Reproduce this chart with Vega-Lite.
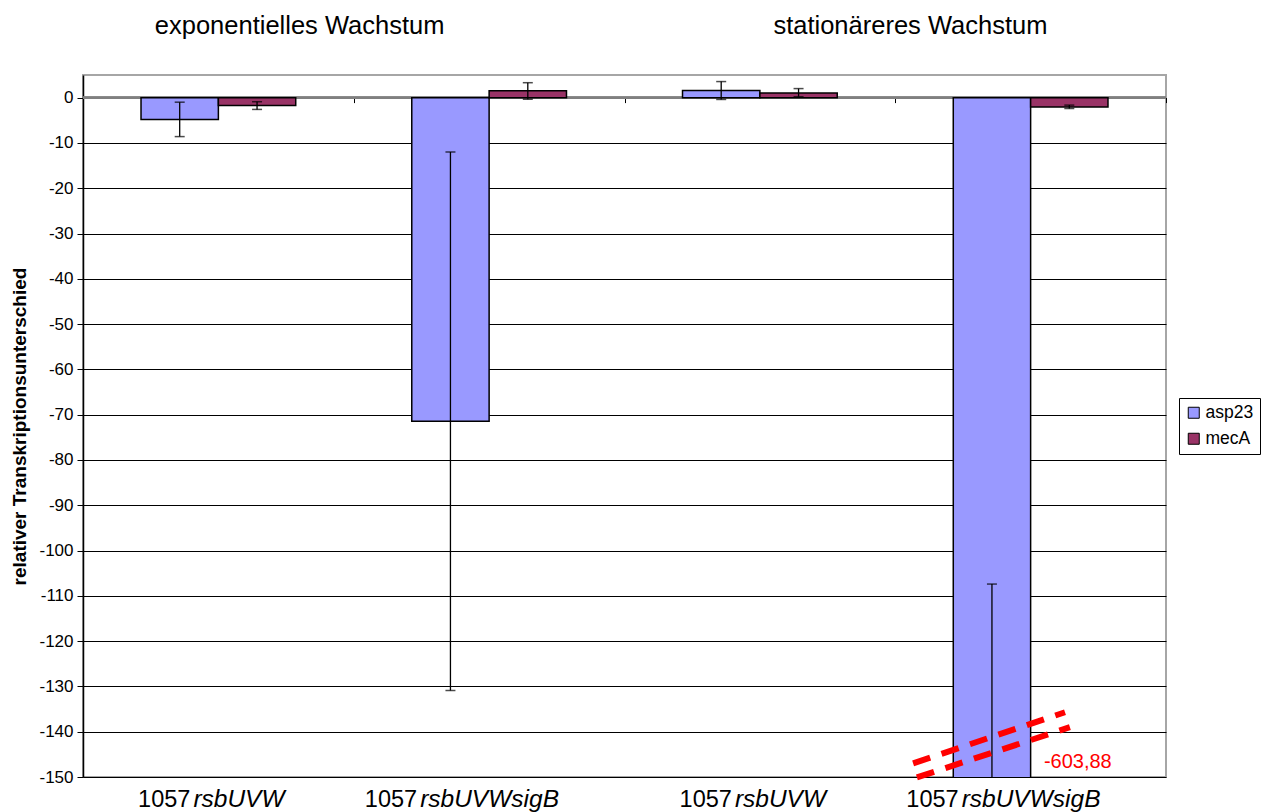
{
  "$schema": "https://vega.github.io/schema/vega-lite/v6.json",
  "width": 1083,
  "height": 702,
  "autosize": {"type": "none"},
  "padding": {"left": 83, "top": 75, "right": 100, "bottom": 35},
  "background": "white",
  "config": {
    "view": {"stroke": "#a6a6a6", "strokeWidth": 2},
    "font": "Liberation Sans"
  },
  "datasets": {
    "bars": [
      {"cat": "exp_rsbUVW", "gene": "asp23", "value": -4.8, "lo": -8.6, "hi": -1.0},
      {"cat": "exp_rsbUVW", "gene": "mecA", "value": -1.75, "lo": -2.6, "hi": -0.9},
      {"cat": "exp_sigB", "gene": "asp23", "value": -71.45, "lo": -130.9, "hi": -12.0},
      {"cat": "exp_sigB", "gene": "mecA", "value": 1.5, "lo": -0.35, "hi": 3.3},
      {"cat": "stat_rsbUVW", "gene": "asp23", "value": 1.6, "lo": -0.4, "hi": 3.55},
      {"cat": "stat_rsbUVW", "gene": "mecA", "value": 1.05, "lo": 0.2, "hi": 2.0},
      {"cat": "stat_sigB", "gene": "asp23", "value": -603.88, "lo": -1100.4, "hi": -107.4},
      {"cat": "stat_sigB", "gene": "mecA", "value": -2.05, "lo": -2.4, "hi": -1.65}
    ],
    "labels": [
      {"cat": "exp_rsbUVW", "strain": "1057", "mutant": "rsbUVW", "kind": "short"},
      {"cat": "exp_sigB", "strain": "1057", "mutant": "rsbUVWsigB", "kind": "long"},
      {"cat": "stat_rsbUVW", "strain": "1057", "mutant": "rsbUVW", "kind": "short"},
      {"cat": "stat_sigB", "strain": "1057", "mutant": "rsbUVWsigB", "kind": "long"}
    ],
    "titles": [
      {"pos": 0.80, "level": 14.0, "title": "exponentielles Wachstum"},
      {"pos": 3.056, "level": 14.0, "title": "stationäreres Wachstum"}
    ],
    "breaks": [
      {"x1": 3.066, "y1": -147.0, "x2": 3.627, "y2": -135.7},
      {"x1": 3.080, "y1": -150.1, "x2": 3.645, "y2": -139.0}
    ],
    "notes": [
      {"pos": 3.549, "level": -148.1, "text": "-603,88"}
    ],
    "catticks": [
      {"pos": 1}, {"pos": 2}, {"pos": 3}
    ]
  },
  "resolve": {"scale": {"x": "independent"}, "axis": {"x": "independent"}},
  "layer": [
    {
      "data": {"name": "bars"},
      "layer": [
        {
          "mark": {"type": "rule", "color": "#808080", "strokeWidth": 2},
          "encoding": {
            "y": {"datum": 0, "type": "quantitative", "scale": {"domain": [-150, 5], "nice": false, "zero": false},
              "axis": {
                "values": [0, -10, -20, -30, -40, -50, -60, -70, -80, -90, -100, -110, -120, -130, -140, -150],
                "labelExpr": "'' + datum.value",
                "title": "relativer Transkriptionsunterschied",
                "titleFontSize": 19, "titleFontWeight": "bold", "titleColor": "black", "titlePadding": 9,
                "labelFontSize": 17, "labelColor": "black", "labelPadding": 4,
                "tickColor": "black", "tickSize": 6, "tickWidth": 1,
                "domainColor": "black", "domainWidth": 1.5,
                "grid": true, "gridColor": "black", "gridWidth": 1
              }
            }
          }
        },
        {
          "mark": {"type": "bar", "stroke": "black", "strokeWidth": 1.5, "clip": true},
          "encoding": {
            "x": {"field": "cat", "type": "nominal", "scale": {"domain": ["exp_rsbUVW", "exp_sigB", "stat_rsbUVW", "stat_sigB"], "paddingInner": 0, "paddingOuter": 0}, "axis": null},
            "xOffset": {"field": "gene", "type": "nominal", "scale": {"domain": ["asp23", "mecA"], "paddingInner": 0, "paddingOuter": 0.75}},
            "y": {"field": "value", "type": "quantitative", "scale": {"domain": [-150, 5], "nice": false, "zero": false}},
            "color": {"field": "gene", "type": "nominal",
              "scale": {"domain": ["asp23", "mecA"], "range": ["#9999FF", "#993366"]},
              "legend": {
                "title": null, "orient": "none", "legendX": 1096, "legendY": 323,
                "strokeColor": "black", "padding": 6, "fillColor": "white",
                "labelFontSize": 17.5, "labelColor": "black", "labelOffset": 3,
                "symbolType": "square", "symbolSize": 121, "symbolStrokeColor": "black", "symbolStrokeWidth": 1,
                "rowPadding": 7
              }
            }
          }
        },
        {
          "mark": {"type": "rule", "color": "black", "strokeWidth": 1.3, "clip": true},
          "encoding": {
            "x": {"field": "cat", "type": "nominal", "scale": {"domain": ["exp_rsbUVW", "exp_sigB", "stat_rsbUVW", "stat_sigB"], "paddingInner": 0, "paddingOuter": 0}, "axis": null},
            "xOffset": {"field": "gene", "type": "nominal", "scale": {"domain": ["asp23", "mecA"], "paddingInner": 0, "paddingOuter": 0.75}},
            "y": {"field": "lo", "type": "quantitative"},
            "y2": {"field": "hi"}
          }
        },
        {
          "mark": {"type": "tick", "color": "black", "size": 10, "thickness": 1.5, "clip": true},
          "encoding": {
            "x": {"field": "cat", "type": "nominal", "scale": {"domain": ["exp_rsbUVW", "exp_sigB", "stat_rsbUVW", "stat_sigB"], "paddingInner": 0, "paddingOuter": 0}, "axis": null},
            "xOffset": {"field": "gene", "type": "nominal", "scale": {"domain": ["asp23", "mecA"], "paddingInner": 0, "paddingOuter": 0.75}},
            "y": {"field": "lo", "type": "quantitative"}
          }
        },
        {
          "mark": {"type": "tick", "color": "black", "size": 10, "thickness": 1.5, "clip": true},
          "encoding": {
            "x": {"field": "cat", "type": "nominal", "scale": {"domain": ["exp_rsbUVW", "exp_sigB", "stat_rsbUVW", "stat_sigB"], "paddingInner": 0, "paddingOuter": 0}, "axis": null},
            "xOffset": {"field": "gene", "type": "nominal", "scale": {"domain": ["asp23", "mecA"], "paddingInner": 0, "paddingOuter": 0.75}},
            "y": {"field": "hi", "type": "quantitative"}
          }
        }
      ]
    },
    {
      "data": {"name": "labels"},
      "encoding": {
        "x": {"field": "cat", "type": "nominal", "scale": {"domain": ["exp_rsbUVW", "exp_sigB", "stat_rsbUVW", "stat_sigB"], "paddingInner": 0, "paddingOuter": 0}, "axis": null},
        "y": {"datum": -150, "type": "quantitative"}
      },
      "layer": [
        {
          "transform": [{"filter": "datum.kind === 'short'"}],
          "mark": {"type": "text", "align": "right", "baseline": "alphabetic", "fontSize": 23.5, "color": "black", "dx": -28, "dy": 30},
          "encoding": {"text": {"field": "strain"}}
        },
        {
          "transform": [{"filter": "datum.kind === 'short'"}],
          "mark": {"type": "text", "align": "left", "baseline": "alphabetic", "fontSize": 24.5, "fontStyle": "italic", "color": "black", "dx": -25, "dy": 30},
          "encoding": {"text": {"field": "mutant"}}
        },
        {
          "transform": [{"filter": "datum.kind === 'long'"}],
          "mark": {"type": "text", "align": "right", "baseline": "alphabetic", "fontSize": 23.5, "color": "black", "dx": -72, "dy": 30},
          "encoding": {"text": {"field": "strain"}}
        },
        {
          "transform": [{"filter": "datum.kind === 'long'"}],
          "mark": {"type": "text", "align": "left", "baseline": "alphabetic", "fontSize": 24.5, "fontStyle": "italic", "color": "black", "dx": -69, "dy": 30},
          "encoding": {"text": {"field": "mutant"}}
        }
      ]
    },
    {
      "data": {"name": "catticks"},
      "mark": {"type": "tick", "opacity": 0},
      "encoding": {
        "x": {"field": "pos", "type": "quantitative", "scale": {"domain": [0, 4], "nice": false, "zero": false},
          "axis": {"orient": "bottom", "offset": -679.4, "values": [1, 2, 3, 4], "labels": false, "domain": false, "grid": false, "ticks": true, "tickSize": 5, "tickColor": "black", "tickWidth": 1, "title": null}},
        "y": {"datum": 0, "type": "quantitative"}
      }
    },
    {
      "data": {"name": "titles"},
      "mark": {"type": "text", "align": "center", "baseline": "alphabetic", "fontSize": 25.5, "color": "black"},
      "encoding": {
        "x": {"field": "pos", "type": "quantitative", "scale": {"domain": [0, 4], "nice": false, "zero": false}, "axis": null},
        "y": {"field": "level", "type": "quantitative"},
        "text": {"field": "title"}
      }
    },
    {
      "data": {"name": "breaks"},
      "mark": {"type": "rule", "color": "#ff0000", "strokeWidth": 6, "strokeDash": [18, 12]},
      "encoding": {
        "x": {"field": "x1", "type": "quantitative", "scale": {"domain": [0, 4], "nice": false, "zero": false}, "axis": null},
        "x2": {"field": "x2"},
        "y": {"field": "y1", "type": "quantitative"},
        "y2": {"field": "y2"}
      }
    },
    {
      "data": {"name": "notes"},
      "mark": {"type": "text", "align": "left", "baseline": "alphabetic", "fontSize": 20, "color": "#ff0000"},
      "encoding": {
        "x": {"field": "pos", "type": "quantitative", "scale": {"domain": [0, 4], "nice": false, "zero": false}, "axis": null},
        "y": {"field": "level", "type": "quantitative"},
        "text": {"field": "text"}
      }
    }
  ]
}
